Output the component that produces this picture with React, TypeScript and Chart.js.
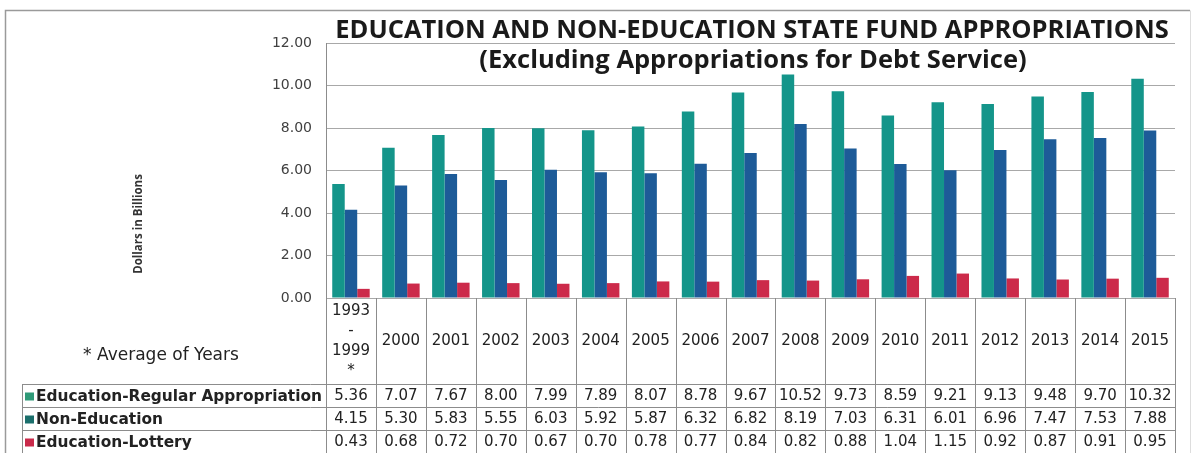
import { useEffect, useRef } from "react";
import { Chart, registerables } from "chart.js";

Chart.register(...registerables);

const categories: (string | string[])[] = [
  ["1993", "-", "1999", "*"],
  "2000", "2001", "2002", "2003", "2004", "2005", "2006", "2007",
  "2008", "2009", "2010", "2011", "2012", "2013", "2014", "2015",
];

const eduRegular = [5.36, 7.07, 7.67, 8.0, 7.99, 7.89, 8.07, 8.78, 9.67, 10.52, 9.73, 8.59, 9.21, 9.13, 9.48, 9.7, 10.32];
const nonEducation = [4.15, 5.3, 5.83, 5.55, 6.03, 5.92, 5.87, 6.32, 6.82, 8.19, 7.03, 6.31, 6.01, 6.96, 7.47, 7.53, 7.88];
const eduLottery = [0.43, 0.68, 0.72, 0.7, 0.67, 0.7, 0.78, 0.77, 0.84, 0.82, 0.88, 1.04, 1.15, 0.92, 0.87, 0.91, 0.95];

const seriesNames = ["Education-Regular Appropriation", "Non-Education", "Education-Lottery"];
const seriesColors = ["#14958a", "#1d5b98", "#cc2a4a"];
const swatchColors = ["#2f9a78", "#1b6f6c", "#c92a4a"];

const titleText = "EDUCATION AND NON-EDUCATION STATE FUND APPROPRIATIONS";
const subtitleText = "(Excluding Appropriations for Debt Service)";
const yTitleText = "Dollars in Billions";
const noteText = "* Average of Years";

const Y_MIN = 0;
const Y_MAX = 12;
const Y_STEP = 2;

const DV = "'DejaVu Sans', Verdana, sans-serif";
const OS = "'Open Sans', sans-serif";

const tablePlugin = {
  id: "tableAndTitles",
  afterDraw(chart: any) {
    const ctx: CanvasRenderingContext2D = chart.ctx;
    const xs = chart.scales.x;
    const area = chart.chartArea;
    const labels = chart.data.labels as (string | string[])[];
    const n = labels.length;
    const colW = (area.right - area.left) / n;
    const top = area.bottom;
    const headerBottom = top + 86;
    const rowH = 23;
    const tableBottom = headerBottom + rowH * 3;
    const legendLeft = 22;

    ctx.save();

    // outer frame
    ctx.strokeStyle = "#9a9a9a";
    ctx.lineWidth = 1.5;
    ctx.beginPath();
    ctx.moveTo(5.5, chart.height);
    ctx.lineTo(5.5, 10.5);
    ctx.lineTo(1190, 10.5);
    ctx.stroke();
    ctx.strokeStyle = "#dddddd";
    ctx.lineWidth = 1;
    ctx.beginPath();
    ctx.moveTo(1190.5, 10.5);
    ctx.lineTo(1190.5, chart.height);
    ctx.stroke();

    // table grid
    ctx.strokeStyle = "#8c8c8c";
    ctx.lineWidth = 1;
    ctx.beginPath();
    const bounds: number[] = [];
    for (let i = 0; i < n; i++) bounds.push(xs.getPixelForValue(i) - colW / 2);
    bounds.push(xs.getPixelForValue(n - 1) + colW / 2);
    bounds.forEach((bx) => {
      const px = Math.round(bx) + 0.5;
      ctx.moveTo(px, top);
      ctx.lineTo(px, tableBottom);
    });
    ctx.moveTo(legendLeft + 0.5, headerBottom);
    ctx.lineTo(legendLeft + 0.5, tableBottom);
    for (let r = 0; r <= 3; r++) {
      const py = Math.round(headerBottom + r * rowH) + 0.5;
      ctx.moveTo(legendLeft, py);
      ctx.lineTo(Math.round(bounds[n]) + 0.5, py);
    }
    ctx.stroke();

    // header labels
    ctx.fillStyle = "#222";
    ctx.textAlign = "center";
    ctx.textBaseline = "middle";
    ctx.font = `15px ${DV}`;
    labels.forEach((lab, i) => {
      const cx = xs.getPixelForValue(i);
      if (Array.isArray(lab)) {
        const lh = 20;
        const start = (top + headerBottom) / 2 - ((lab.length - 1) * lh) / 2;
        lab.forEach((line, k) => ctx.fillText(line, cx, start + k * lh));
      } else {
        ctx.fillText(lab, cx, (top + headerBottom) / 2);
      }
    });

    // note
    ctx.font = `17px ${DV}`;
    ctx.fillStyle = "#222";
    ctx.fillText(noteText, 161, 356);

    // rows
    chart.data.datasets.forEach((ds: any, r: number) => {
      const cy = headerBottom + r * rowH + rowH / 2 + 1;
      ctx.fillStyle = ds.swatch;
      ctx.fillRect(25, cy - 4, 9, 8);
      ctx.fillStyle = "#222";
      ctx.textAlign = "left";
      ctx.font = `bold 15.4px ${DV}`;
      ctx.fillText(ds.label, 36, cy, bounds[0] - 40);
      ctx.textAlign = "center";
      ctx.font = `15px ${DV}`;
      ds.data.forEach((v: number, i: number) => {
        ctx.fillText(v.toFixed(2), xs.getPixelForValue(i), cy, colW - 3);
      });
    });

    // titles
    ctx.fillStyle = "#1a1a1a";
    ctx.textAlign = "center";
    ctx.font = `bold 25.5px ${OS}`;
    ctx.fillText(titleText, 752, 31, 840);
    ctx.font = `bold 25.5px ${OS}`;
    ctx.fillText(subtitleText, 753, 61, 552);

    // y title
    ctx.save();
    ctx.translate(139, 224);
    ctx.rotate(-Math.PI / 2);
    ctx.font = `bold 11.5px ${OS}`;
    ctx.fillStyle = "#333";
    ctx.fillText(yTitleText, 0, 0);
    ctx.restore();

    ctx.restore();
  },
};

export default function App() {
  const ref = useRef<HTMLCanvasElement | null>(null);

  useEffect(() => {
    if (!ref.current) return;
    const datasets = [eduRegular, nonEducation, eduLottery].map((d, i) => ({
      label: seriesNames[i],
      data: d,
      backgroundColor: seriesColors[i],
      swatch: swatchColors[i],
      categoryPercentage: 0.75,
      barPercentage: 1.0,
      borderWidth: 0,
    }));
    const chart = new Chart(ref.current, {
      type: "bar",
      data: { labels: categories, datasets: datasets as any },
      options: {
        responsive: false,
        animation: false,
        layout: { padding: { top: 43, right: 18, bottom: 155, left: 0 } },
        plugins: {
          legend: { display: false },
          title: { display: false },
          tooltip: { enabled: false },
        },
        scales: {
          x: { display: false },
          y: {
            min: Y_MIN,
            max: Y_MAX,
            afterFit: (s: any) => {
              s.width = 326;
            },
            ticks: {
              stepSize: Y_STEP,
              padding: 14,
              color: "#404040",
              font: { family: DV, size: 14 },
              callback: (v: any) => Number(v).toFixed(2),
            },
            grid: { color: "#a8a8a8", drawTicks: false, lineWidth: 1 },
            border: { display: true, color: "#8c8c8c" },
          },
        },
      },
      plugins: [tablePlugin],
    });
    return () => chart.destroy();
  }, []);

  return (
    <div style={{ position: "absolute", left: 0, top: 0, width: 1193, height: 453, background: "#fff" }}>
      <canvas ref={ref} width={1193} height={453} />
    </div>
  );
}
